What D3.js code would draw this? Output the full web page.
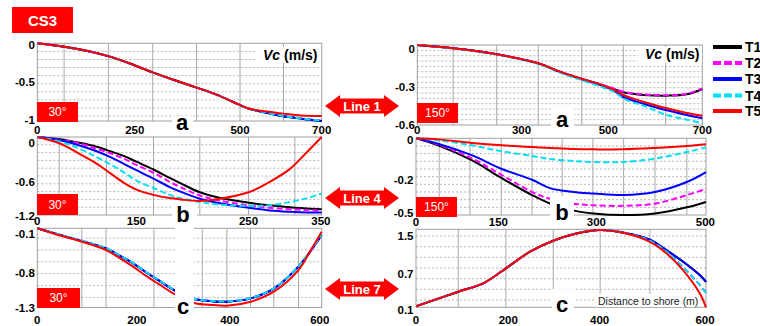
<!DOCTYPE html>
<html><head><meta charset="utf-8">
<script src="https://cdn.jsdelivr.net/npm/d3@7"></script>
<style>
html,body{margin:0;padding:0;background:#fff;}
svg{display:block;font-family:"Liberation Sans",Arial,sans-serif;}
</style></head><body>
<svg id="chart" width="760" height="326"></svg>
<script>
// ---------------- DATA ----------------
const seriesNames = ["T1", "T2", "T3", "T4", "T5"];

// Line 1, 30° (panel a, left)  – distance (m), Vc (m/s)
const a30X  = [0, 66, 121, 175, 228, 284, 335, 392, 441, 482, 520, 560, 606, 650, 700];
const a30T1 = [0, -0.044, -0.095, -0.165, -0.26, -0.375, -0.47, -0.57, -0.66, -0.755, -0.84, -0.89, -0.94, -0.97, -1.0];
const a30T2 = [0, -0.044, -0.095, -0.165, -0.26, -0.375, -0.47, -0.57, -0.66, -0.755, -0.84, -0.888, -0.937, -0.967, -0.997];
const a30T3 = [0, -0.044, -0.095, -0.165, -0.26, -0.375, -0.47, -0.57, -0.66, -0.755, -0.84, -0.89, -0.94, -0.97, -1.0];
const a30T4 = [0, -0.044, -0.095, -0.165, -0.26, -0.375, -0.47, -0.57, -0.66, -0.755, -0.84, -0.888, -0.937, -0.967, -0.997];
const a30T5 = [0, -0.044, -0.095, -0.165, -0.26, -0.375, -0.47, -0.57, -0.66, -0.755, -0.84, -0.875, -0.905, -0.928, -0.935];

// Line 1, 150° (panel a, right)
const a150X  = [0, 88, 195, 297, 350, 400, 449, 482, 506, 539, 555, 613, 662, 700];
const a150T1 = [0, -0.025, -0.07, -0.137, -0.2, -0.25, -0.295, -0.33, -0.355, -0.37, -0.375, -0.38, -0.37, -0.33];
const a150T2 = [0, -0.025, -0.07, -0.137, -0.2, -0.25, -0.293, -0.326, -0.35, -0.366, -0.371, -0.377, -0.366, -0.325];
const a150T3 = [0, -0.025, -0.07, -0.138, -0.202, -0.253, -0.3, -0.34, -0.39, -0.425, -0.44, -0.49, -0.525, -0.55];
const a150T4 = [0, -0.026, -0.072, -0.142, -0.207, -0.26, -0.31, -0.35, -0.4, -0.44, -0.455, -0.525, -0.56, -0.587];
const a150T5 = [0, -0.025, -0.07, -0.137, -0.2, -0.25, -0.295, -0.335, -0.375, -0.41, -0.425, -0.475, -0.51, -0.53];

// Line 4, 30° (panel b, left)
const b30X  = [0, 28, 52, 73, 90, 106, 122, 143, 163, 176, 200, 225, 260, 286, 311, 332, 350];
const b30T1 = [0, -0.036, -0.09, -0.15, -0.22, -0.29, -0.38, -0.5, -0.63, -0.71, -0.85, -0.94, -1.01, -1.05, -1.08, -1.1, -1.11];
const b30T2 = [0, -0.045, -0.1, -0.18, -0.25, -0.33, -0.43, -0.55, -0.69, -0.77, -0.9, -0.98, -1.05, -1.09, -1.11, -1.125, -1.13];
const b30T3 = [0, -0.05, -0.13, -0.22, -0.31, -0.41, -0.51, -0.64, -0.77, -0.84, -0.95, -1.02, -1.09, -1.13, -1.15, -1.16, -1.16];
const b30T4 = [0, -0.07, -0.18, -0.31, -0.42, -0.54, -0.67, -0.785, -0.89, -0.94, -1.0, -1.04, -1.06, -1.05, -1.0, -0.94, -0.87];
const b30T5 = [0, -0.1, -0.26, -0.41, -0.56, -0.7, -0.81, -0.89, -0.94, -0.96, -0.985, -0.95, -0.85, -0.69, -0.49, -0.23, 0.0];

// Line 4, 150° (panel b, right)
const b150X  = [0, 38, 96, 148, 200, 231, 271, 306, 357, 412, 467, 500];
const b150T1 = [0, -0.046, -0.143, -0.26, -0.37, -0.425, -0.47, -0.49, -0.5, -0.49, -0.45, -0.415];
const b150T2 = [0, -0.04, -0.13, -0.24, -0.35, -0.395, -0.426, -0.437, -0.44, -0.426, -0.37, -0.33];
const b150T3 = [0, -0.035, -0.11, -0.2, -0.27, -0.325, -0.35, -0.36, -0.37, -0.35, -0.285, -0.22];
const b150T4 = [0, -0.013, -0.046, -0.085, -0.115, -0.135, -0.148, -0.155, -0.155, -0.133, -0.089, -0.06];
const b150T5 = [0, -0.007, -0.03, -0.046, -0.057, -0.064, -0.07, -0.072, -0.072, -0.063, -0.05, -0.039];

// Line 7, 30° (panel c, left)
const c30X  = [0, 44, 94, 145, 174, 202, 231, 259, 283, 310, 333, 371, 400, 450, 499, 551, 575, 600];
const c30T1 = [0, -0.1, -0.21, -0.33, -0.45, -0.575, -0.73, -0.87, -0.99, -1.1, -1.166, -1.2, -1.205, -1.15, -0.99, -0.63, -0.39, -0.11];
const c30T2 = [0, -0.098, -0.205, -0.325, -0.445, -0.57, -0.725, -0.865, -0.985, -1.095, -1.16, -1.195, -1.2, -1.145, -0.985, -0.625, -0.385, -0.1];
const c30T3 = [0, -0.1, -0.21, -0.33, -0.45, -0.575, -0.73, -0.87, -0.99, -1.1, -1.166, -1.2, -1.205, -1.15, -0.99, -0.63, -0.39, -0.11];
const c30T4 = [0, -0.098, -0.205, -0.325, -0.445, -0.57, -0.725, -0.865, -0.985, -1.095, -1.16, -1.195, -1.2, -1.145, -0.985, -0.625, -0.385, -0.1];
const c30T5 = [0, -0.11, -0.22, -0.356, -0.49, -0.63, -0.79, -0.93, -1.05, -1.16, -1.23, -1.26, -1.27, -1.205, -1.04, -0.685, -0.384, -0.055];

// Line 7, 150° (panel c, right)
const c150X  = [0, 87.5, 139, 186, 236, 284, 332, 381, 435, 484, 518, 552, 587, 600];
const c150T1 = [0.12, 0.4, 0.56, 0.85, 1.17, 1.38, 1.52, 1.587, 1.525, 1.4, 1.2, 0.98, 0.72, 0.59];
const c150T2 = [0.12, 0.4, 0.56, 0.85, 1.17, 1.38, 1.52, 1.587, 1.525, 1.38, 1.17, 0.88, 0.53, 0.38];
const c150T3 = [0.12, 0.4, 0.56, 0.85, 1.17, 1.38, 1.52, 1.587, 1.525, 1.4, 1.2, 0.98, 0.72, 0.59];
const c150T4 = [0.12, 0.4, 0.56, 0.85, 1.17, 1.38, 1.52, 1.587, 1.525, 1.38, 1.17, 0.88, 0.53, 0.38];
const c150T5 = [0.12, 0.4, 0.56, 0.85, 1.17, 1.38, 1.52, 1.587, 1.52, 1.36, 1.14, 0.82, 0.37, 0.1];

// Tick labels (text, and the value at which each is printed)
const a30XTickText = ["0", "250", "500", "700"];   const a30XTickAt = [0, 240, 499, 700];
const a30YTickText = ["0", "-0.5", "-1"];          const a30YTickAt = [-0.02, -0.5, -0.99];
const a150XTickText = ["0", "300", "500", "700"];  const a150XTickAt = [0, 256, 469, 700];
const a150YTickText = ["0", "-0.3", "-0.6"];       const a150YTickAt = [-0.03, -0.315, -0.6];
const b30XTickText = ["0", "150", "250", "350"];   const b30XTickAt = [0, 122, 260, 349];
const b30YTickText = ["0", "-0.6", "-1.2"];        const b30YTickAt = [-0.088, -0.688, -1.22];
const b150XTickText = ["0", "150", "300", "500"];  const b150XTickAt = [0, 142, 311, 499];
const b150YTickText = ["0", "-0.2", "-0.5"];       const b150YTickAt = [-0.011, -0.272, -0.487];
const c30XTickText = ["0", "200", "400", "600"];   const c30XTickAt = [0, 210, 406, 596];
const c30YTickText = ["-0.1", "-0.8", "-1.3"];     const c30YTickAt = [-0.094, -0.729, -1.314];
const c150XTickText = ["0", "200", "400", "600"];  const c150XTickAt = [0, 191, 380, 598];
const c150YTickText = ["1.5", "0.7", "0.1"];       const c150YTickAt = [1.471, 0.74, 0.048];

// Grid lines (data units)
const a30XGrid = [66, 175, 284, 392, 499, 606];
const a30YGrid = [-0.104, -0.208, -0.312, -0.416, -0.52, -0.624, -0.728, -0.832, -0.936];
const a150XGrid = [88, 195, 297, 404, 506, 610];
const a150YGrid = [-0.04, -0.08, -0.12, -0.16, -0.2, -0.24, -0.28, -0.32, -0.36, -0.4, -0.44, -0.48, -0.52, -0.56];
const b30XGrid = [27, 85, 143, 200, 260, 317];
const b30YGrid = [-0.12, -0.24, -0.36, -0.48, -0.6, -0.72, -0.84, -0.96, -1.08];
const b150XGrid = [40, 93, 147, 200, 252, 305, 358, 412, 467];
const b150YGrid = [-0.05, -0.1, -0.15, -0.2, -0.25, -0.3, -0.35, -0.4, -0.45];
const c30XGrid = [94, 145, 246, 348, 400, 450, 499, 551];
const c30YGrid = [-0.16, -0.355, -0.55, -0.745, -0.94, -1.135];
const c150XGrid = [87.5, 186, 284, 381, 484];
const c150YGrid = [1.47, 1.265, 1.06, 0.855, 0.65, 0.445, 0.24];

const lineLabels = ["Line 1", "Line 4", "Line 7"];
const panelLetters = ["a", "a", "b", "b", "c", "c"];
const angleLabels = ["30°", "150°", "30°", "150°", "30°", null];

// ---------------- STYLE / LAYOUT ----------------
const seriesStyle = {
  T1: { color: "#000000", dash: null },
  T2: { color: "#ff00ff", dash: "6,3" },
  T3: { color: "#0000ff", dash: null },
  T4: { color: "#00e1f5", dash: "6,3" },
  T5: { color: "#ff0000", dash: null }
};

const panels = [
  { box: [37.3, 43.3, 321.7, 121], xDom: [0, 700], yDom: [-1, 0], X: a30X, Y: [a30T1, a30T2, a30T3, a30T4, a30T5],
    xGrid: a30XGrid, yGrid: a30YGrid, xt: [a30XTickAt, a30XTickText], yt: [a30YTickAt, a30YTickText], xLabY: 130,
    badge: [37, 102, 41, 20], letter: [182, 130], whites: [[172, 116, 21, 17], [257, 47, 64, 16]], vc: [263, 60] },
  { box: [417.3, 45, 702.3, 125], xDom: [0, 700], yDom: [-0.6, 0], X: a150X, Y: [a150T1, a150T2, a150T3, a150T4, a150T5],
    xGrid: a150XGrid, yGrid: a150YGrid, xt: [a150XTickAt, a150XTickText], yt: [a150YTickAt, a150YTickText], xLabY: 130,
    badge: [417, 103, 41, 20], letter: [562, 127], whites: [[551, 108, 23, 23], [638, 47, 64, 16]], vc: [645, 59] },
  { box: [37.3, 137, 321.7, 215], xDom: [0, 350], yDom: [-1.2, 0], X: b30X, Y: [b30T1, b30T2, b30T3, b30T4, b30T5],
    xGrid: b30XGrid, yGrid: b30YGrid, xt: [b30XTickAt, b30XTickText], yt: [b30YTickAt, b30YTickText], xLabY: 221,
    badge: [37, 194, 41, 21], letter: [183, 222], whites: [[172, 203, 25, 20]] },
  { box: [416, 138.3, 706, 215], xDom: [0, 500], yDom: [-0.5, 0], X: b150X, Y: [b150T1, b150T2, b150T3, b150T4, b150T5],
    xGrid: b150XGrid, yGrid: b150YGrid, xt: [b150XTickAt, b150XTickText], yt: [b150YTickAt, b150YTickText], xLabY: 221.5,
    badge: [416, 197, 41, 20], letter: [562, 220], whites: [[550, 196, 24, 27]] },
  { box: [37.3, 228.3, 321.7, 307.5], xDom: [0, 600], yDom: [-1.3, 0], X: c30X, Y: [c30T1, c30T2, c30T3, c30T4, c30T5],
    xGrid: c30XGrid, yGrid: c30YGrid, xt: [c30XTickAt, c30XTickText], yt: [c30YTickAt, c30YTickText], xLabY: 320,
    badge: [37, 288, 43, 20], letter: [183, 314], whites: [[175, 222, 19, 94]] },
  { box: [416, 229.3, 706, 307.3], xDom: [0, 600], yDom: [0.1, 1.6], X: c150X, Y: [c150T1, c150T2, c150T3, c150T4, c150T5],
    xGrid: c150XGrid, yGrid: c150YGrid, xt: [c150XTickAt, c150XTickText], yt: [c150YTickAt, c150YTickText], xLabY: 320,
    badge: null, letter: [562, 312], whites: [[552, 289, 22, 27], [595, 294, 100, 13]], dist: [598, 304.5] }
];

// ---------------- DRAW ----------------
const svg = d3.select("#chart");
const defs = svg.append("defs");

panels.forEach((p, idx) => {
  const [x0, y0, x1, y1] = p.box;
  const x = d3.scaleLinear().domain(p.xDom).range([x0, x1]);
  const y = d3.scaleLinear().domain(p.yDom).range([y1, y0]);
  const g = svg.append("g");

  g.selectAll("line.hg").data(p.yGrid).join("line")
    .attr("x1", x0).attr("x2", x1).attr("y1", d => y(d)).attr("y2", d => y(d))
    .attr("stroke", "#b8b8b8").attr("stroke-width", 1).attr("stroke-dasharray", "2,2");
  g.selectAll("line.vg").data(p.xGrid).join("line")
    .attr("x1", d => x(d)).attr("x2", d => x(d)).attr("y1", y0).attr("y2", y1)
    .attr("stroke", "#a8a8a8").attr("stroke-width", 1);
  g.append("rect").attr("x", x0).attr("y", y0).attr("width", x1 - x0).attr("height", y1 - y0)
    .attr("fill", "none").attr("stroke", "#a0a0a0").attr("stroke-width", 1);

  defs.append("clipPath").attr("id", "clip" + idx).append("rect")
    .attr("x", x0).attr("y", y0 - 2).attr("width", x1 - x0 + 1).attr("height", y1 - y0 + 4);

  const line = d3.line().x((d, i) => x(p.X[i])).y(d => y(d)).curve(d3.curveCatmullRom.alpha(0.5));
  const cg = g.append("g").attr("clip-path", `url(#clip${idx})`);
  seriesNames.forEach((s, k) => {
    const st = seriesStyle[s];
    cg.append("path").datum(p.Y[k]).attr("d", line)
      .attr("fill", "none").attr("stroke", st.color).attr("stroke-width", 2)
      .attr("stroke-dasharray", st.dash).attr("stroke-linejoin", "round");
  });

  p.whites.forEach(w => {
    g.append("rect").attr("x", w[0]).attr("y", w[1]).attr("width", w[2]).attr("height", w[3]).attr("fill", "#fff");
  });

  g.selectAll("text.xt").data(p.xt[0]).join("text")
    .attr("x", d => x(d)).attr("y", p.xLabY).attr("text-anchor", "middle").attr("dominant-baseline", "central")
    .attr("font-size", 11.5).attr("font-weight", "bold").attr("fill", "#000")
    .text((d, i) => p.xt[1][i]);
  g.selectAll("text.yt").data(p.yt[0]).join("text")
    .attr("x", x0 - 2.5).attr("y", d => y(d)).attr("text-anchor", "end").attr("dominant-baseline", "central")
    .attr("font-size", 11.5).attr("font-weight", "bold").attr("fill", "#000")
    .text((d, i) => p.yt[1][i]);

  g.append("text").attr("x", p.letter[0]).attr("y", p.letter[1]).attr("text-anchor", "middle")
    .attr("font-size", 22).attr("font-weight", "bold").text(panelLetters[idx]);

  if (p.badge) {
    g.append("rect").attr("x", p.badge[0]).attr("y", p.badge[1]).attr("width", p.badge[2]).attr("height", p.badge[3]).attr("fill", "#ff0000");
    g.append("text").attr("x", p.badge[0] + p.badge[2] / 2).attr("y", p.badge[1] + p.badge[3] / 2)
      .attr("text-anchor", "middle").attr("dominant-baseline", "central")
      .attr("font-size", 12).attr("fill", "#fff").text(angleLabels[idx]);
  }
  if (p.vc) {
    const t = g.append("text").attr("x", p.vc[0]).attr("y", p.vc[1]).attr("font-size", 14).attr("font-weight", "bold");
    t.append("tspan").attr("font-style", "italic").text("Vc");
    t.append("tspan").text(" (m/s)");
  }
  if (p.dist) {
    g.append("text").attr("x", p.dist[0]).attr("y", p.dist[1]).attr("font-size", 10.5).attr("fill", "#222")
      .text("Distance to shore (m)");
  }
});

// CS3 badge
svg.append("rect").attr("x", 12).attr("y", 7).attr("width", 61).attr("height", 26).attr("fill", "#ff0000");
svg.append("text").attr("x", 42.5).attr("y", 20.5).attr("text-anchor", "middle").attr("dominant-baseline", "central")
  .attr("font-size", 15).attr("font-weight", "bold").attr("fill", "#fff").text("CS3");

// Double arrows "Line n"
const arrowCY = [106, 198, 289];
lineLabels.forEach((lab, i) => {
  const cy = arrowCY[i], xa = 325, xb = 399, hl = 15, hh = 11, bh = 7.5;
  const pts = [[xa, cy], [xa + hl, cy - hh], [xa + hl, cy - bh], [xb - hl, cy - bh], [xb - hl, cy - hh], [xb, cy],
               [xb - hl, cy + hh], [xb - hl, cy + bh], [xa + hl, cy + bh], [xa + hl, cy + hh]];
  svg.append("path").attr("d", d3.line()(pts) + "Z").attr("fill", "#ff0000");
  svg.append("text").attr("x", (xa + xb) / 2).attr("y", cy + 0.5).attr("text-anchor", "middle").attr("dominant-baseline", "central")
    .attr("font-size", 13).attr("font-weight", "bold").attr("fill", "#fff").text(lab);
});

// Legend
const legY = [47, 63, 79, 95.5, 111];
seriesNames.forEach((s, i) => {
  const st = seriesStyle[s];
  svg.append("line").attr("x1", 713).attr("x2", 742).attr("y1", legY[i]).attr("y2", legY[i])
    .attr("stroke", st.color).attr("stroke-width", 4).attr("stroke-dasharray", st.dash ? "8,3" : null);
  svg.append("text").attr("x", 745).attr("y", legY[i]).attr("dominant-baseline", "central")
    .attr("font-size", 14).attr("font-weight", "bold").text(s);
});
</script></body></html>
